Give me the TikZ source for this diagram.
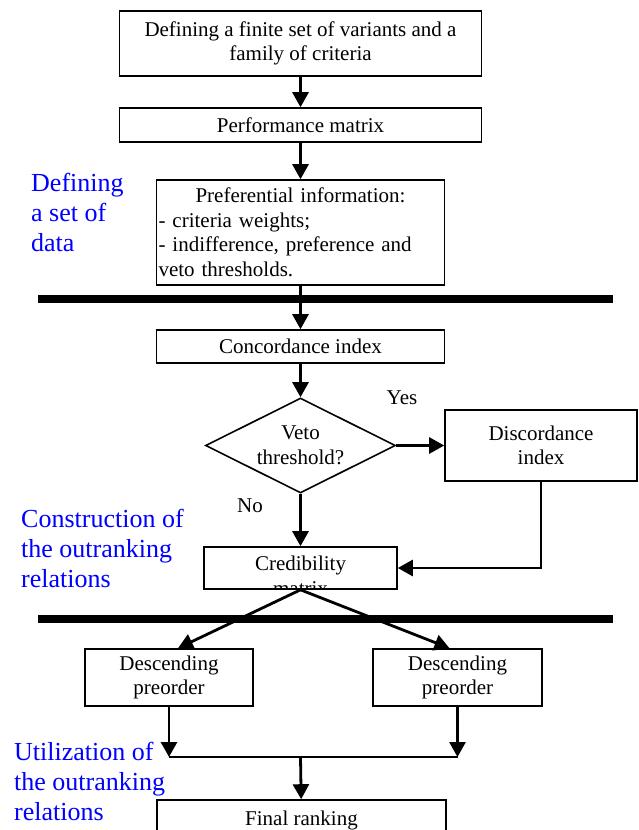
\documentclass[tikz,border=0pt]{standalone}
\usepackage{fontspec}
\setmainfont{Liberation Serif}
\usetikzlibrary{shapes.geometric,arrows.meta}

\begin{document}
\begin{tikzpicture}[x=1pt,y=-1pt,
	txt/.style={font=\fontsize{21}{24.5}\selectfont},
	box/.style={txt,draw,rectangle,line width=1.6pt,inner sep=1pt,align=center},
	link/.style={line width=2.8pt,->},
	bar/.style={line width=7.5pt},
	phase/.style={anchor=west,inner sep=0pt,align=left,text=blue,font=\fontsize{26}{30}\selectfont},
	>={Triangle[length=15pt,width=16pt]}]
	\useasboundingbox (0,0) rectangle (639,830) ;
	\node[box,minimum width=362pt,minimum height=65pt] (Criteria) at (300.5,43.5) {Defining a finite set of variants and a\\family of criteria} ;
	\node[box,minimum width=362pt,minimum height=34pt] (Performance) at (300.5,125) {Performance matrix} ;
	\node[box,minimum height=105pt,text width=284pt,inner xsep=2pt,align=left] (Preference) at (300.5,232.5) {\makebox[284pt]{Preferential information:}\\- criteria weights;\\- indifference, preference and\\veto thresholds.} ;
	\node[box,minimum width=288pt,minimum height=33pt] (Concordance) at (300.5,346.5) {Concordance index} ;
	\node[txt,draw,diamond,line width=1.6pt,aspect=2,inner sep=0pt,minimum width=190pt,minimum height=95pt,align=center] (Veto) at (300.5,445.5) {Veto\\threshold?} ;
	\node[box,minimum width=192pt,minimum height=71pt] (Discordance) at (541,445.5) {Discordance\\index} ;
	\node[box,minimum width=193pt,minimum height=42pt,
		path picture={\node[txt,align=center] at ([yshift=-8pt]path picture bounding box.center) {Credibility\\matrix} ;}] (Credibility) at (300.5,568) {} ;
	\node[box,minimum width=168pt,minimum height=57pt] (DescLeft) at (169,677.5) {Descending\\preorder} ;
	\node[box,minimum width=169pt,minimum height=57pt] (DescRight) at (457.5,677.5) {Descending\\preorder} ;
	\node[box,minimum width=289pt,minimum height=40pt] (Ranking) at (301.5,820) {Final ranking} ;
	\node[txt] (Yes) at (402,398) {Yes} ;
	\node[txt] (No) at (250,506) {No} ;
	\node[phase] (Data) at (31,212) {Defining\\a set of\\data} ;
	\node[phase] (Construction) at (21,548) {Construction of\\the outranking\\relations} ;
	\node[phase] (Utilization) at (14,781) {Utilization of\\the outranking\\relations} ;
	\coordinate (JoinL) at (169,757) ;
	\coordinate (JoinR) at (457.5,757) ;
	\coordinate (JoinM) at (300.5,757) ;
	\draw[bar] (38,299) -- (613,299) ;
	\draw[bar] (38,619) -- (613,619) ;
	\draw[link] (Criteria) -- (Performance) ;
	\draw[link] (Performance) -- (Preference) ;
	\draw[link] (Preference) -- (Concordance) ;
	\draw[link] (Concordance) -- (Veto) ;
	\draw[link] (Veto.east) -- (Discordance.west) ;
	\draw[link] (Veto.south) -- (Credibility.north) ;
	\draw[link] (Discordance.south) |- (Credibility.east) ;
	\draw[link] (Credibility.south) -- ([xshift=9pt]DescLeft.north) ;
	\draw[link] (Credibility.south) -- ([xshift=-8pt]DescRight.north) ;
	\draw[link] (DescLeft.south) -- (JoinL) ;
	\draw[link] (DescRight.south) -- (JoinR) ;
	\draw[line width=2pt] (JoinL) -- (JoinR) ;
	\draw[link] (JoinM) -- (Ranking) ;
\end{tikzpicture}
\end{document}
